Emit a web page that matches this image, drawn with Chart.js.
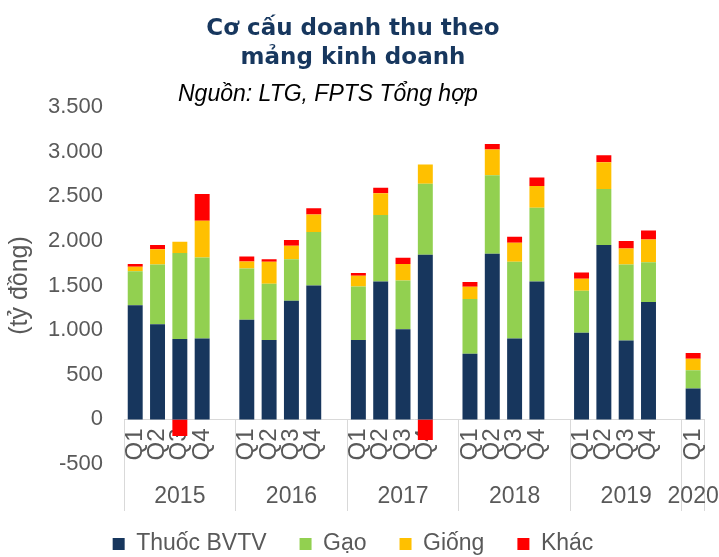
<!DOCTYPE html>
<html>
<head>
<meta charset="utf-8">
<script src="https://cdn.jsdelivr.net/npm/chart.js@4"></script>
<style>
  html, body { margin: 0; padding: 0; background: #fff; }
  #wrap { width: 719px; height: 557px; }
</style>
</head>
<body>
<div id="wrap"><canvas id="chart"></canvas></div>
<script>
// Doanh thu theo quý (tỷ đồng), mỗi năm một mảng
const years = ['2015', '2016', '2017', '2018', '2019', '2020'];
const quarters = ['Q1', 'Q2', 'Q3', 'Q4'];
const thuocBVTV = [[1280, 1065, 900, 905], [1115, 890, 1330, 1500], [890, 1545, 1010, 1845], [735, 1855, 905, 1545], [970, 1955, 885, 1315], [345]];
const gao = [[380, 670, 965, 910], [575, 630, 465, 600], [600, 745, 545, 795], [615, 880, 860, 825], [470, 625, 850, 445], [205]];
const giong = [[50, 170, 125, 410], [80, 245, 150, 195], [120, 245, 185, 215], [135, 290, 215, 245], [135, 300, 180, 255], [130]];
const khac = [[30, 50, -185, 300], [55, 30, 65, 70], [30, 60, 70, -230], [55, 60, 65, 95], [70, 80, 85, 100], [65]];
const seriesNames = ['Thuốc BVTV', 'Gạo', 'Giống', 'Khác'];
const seriesColors = ['#17365D', '#92D050', '#FFC000', '#FF0000'];
const yMin = -500, yMax = 3500, yStep = 500;
const titleLines = ['Cơ cấu doanh thu theo', 'mảng kinh doanh'];
const sourceNote = 'Nguồn: LTG, FPTS Tổng hợp';

// nhãn quý, nhãn năm (ở giữa nhóm) và vị trí vạch chia giữa các năm
const qLabels = [];
const yearLabels = [];
const boundaries = [];
years.forEach((yr, i) => {
  const n = thuocBVTV[i].length;
  const slots = n + (i < years.length - 1 ? 1 : 0);
  boundaries.push(qLabels.length);
  for (let k = 0; k < slots; k++) {
    qLabels.push(k < n ? quarters[k] : '');
    yearLabels.push(k === Math.floor((slots - 1) / 2) ? yr : '');
  }
});

function flat(series) {
  const out = [];
  series.forEach((vals, i) => {
    out.push(...vals);
    if (i < series.length - 1) out.push(null);
  });
  return out;
}

const allSeries = [thuocBVTV, gao, giong, khac];
const datasets = allSeries.map((s, i) => ({
  label: seriesNames[i],
  data: flat(s),
  backgroundColor: seriesColors[i],
  borderWidth: 0,
  barPercentage: 0.67,
  categoryPercentage: 1.0
}));

const gray = '#595959';
const lineGray = '#D9D9D9';

const sourcePlugin = {
  id: 'sourceNote',
  afterDraw(chart) {
    const ctx = chart.ctx;
    ctx.save();
    ctx.font = 'italic 23px "Liberation Sans", Arial, sans-serif';
    ctx.fillStyle = '#000';
    ctx.textAlign = 'left';
    ctx.textBaseline = 'alphabetic';
    ctx.fillText(sourceNote, 178, 101);
    ctx.restore();
  }
};

Chart.defaults.font.family = '"Liberation Sans", Arial, sans-serif';

new Chart(document.getElementById('chart'), {
  type: 'bar',
  data: { labels: qLabels, datasets: datasets },
  plugins: [sourcePlugin],
  options: {
    responsive: true,
    maintainAspectRatio: false,
    animation: false,
    devicePixelRatio: 1,
    layout: { padding: { left: 0, right: 13, top: 0, bottom: -8.5 } },
    plugins: {
      title: {
        display: true,
        text: titleLines,
        color: '#17375E',
        font: { family: '"DejaVu Sans", sans-serif', size: 23, weight: 'bold', lineHeight: 29 / 23 },
        padding: { top: 15, bottom: 34 }
      },
      legend: {
        position: 'bottom',
        title: { display: true, text: '', padding: 0, font: { size: 12, lineHeight: 35.5 / 12 } },
        labels: {
          boxWidth: 12,
          boxHeight: 12,
          padding: 33,
          color: gray,
          font: { size: 23 }
        }
      },
      tooltip: { enabled: false }
    },
    scales: {
      x: {
        stacked: true,
        position: { y: 0 },
        offset: true,
        grid: {
          display: true,
          drawOnChartArea: false,
          drawTicks: true,
          tickLength: 91,
          offset: true,
          color: (c) => (c.index === undefined || boundaries.includes(c.index)) ? lineGray : 'rgba(0,0,0,0)'
        },
        border: { display: true, color: lineGray },
        ticks: {
          autoSkip: false,
          minRotation: 90,
          maxRotation: 90,
          padding: -82,
          color: gray,
          font: { size: 24 }
        }
      },
      x2: {
        axis: 'x',
        type: 'category',
        labels: yearLabels,
        position: { y: yMin },
        offset: true,
        grid: { display: false, drawTicks: false },
        border: { display: false },
        ticks: {
          autoSkip: false,
          minRotation: 0,
          maxRotation: 0,
          padding: 0,
          color: gray,
          font: { size: 23, lineHeight: 66 / 23 }
        }
      },
      y: {
        stacked: true,
        min: yMin,
        max: yMax,
        grid: { display: false, drawTicks: false },
        border: { display: false },
        ticks: {
          stepSize: yStep,
          padding: 21,
          color: gray,
          font: { size: 22 },
          callback: (v) => String(v).replace(/\B(?=(\d{3})+(?!\d))/g, '.')
        },
        title: {
          display: true,
          text: '(tỷ đồng)',
          color: gray,
          font: { size: 25 },
          padding: { top: 5, bottom: -8 }
        }
      }
    }
  }
});
</script>
</body>
</html>
